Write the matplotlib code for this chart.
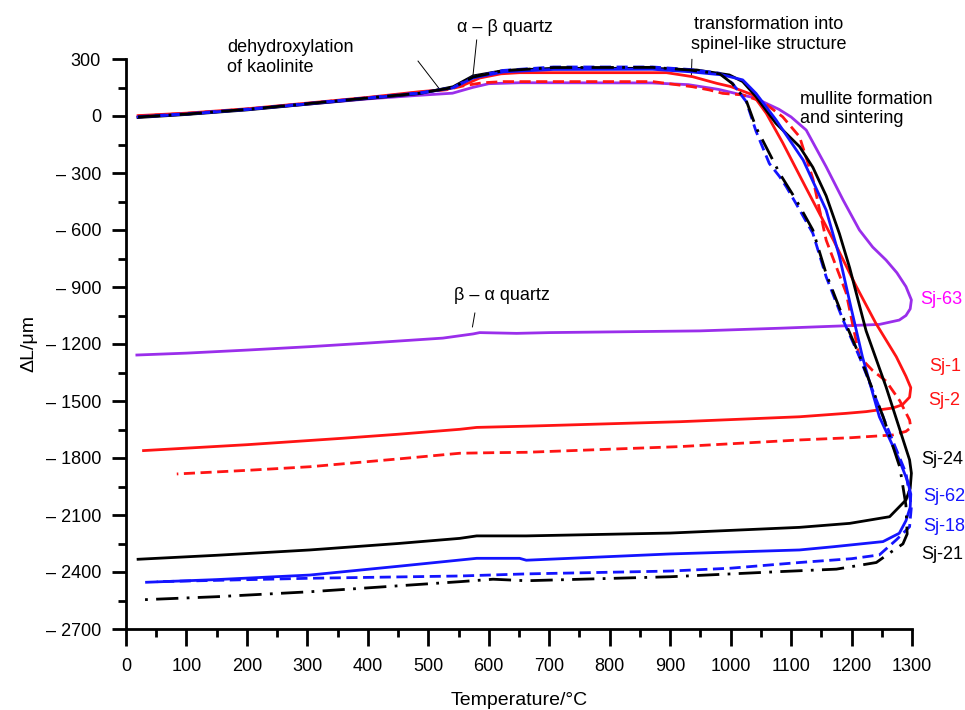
import matplotlib
matplotlib.use('Agg')
import matplotlib.pyplot as plt
from matplotlib.ticker import MultipleLocator, FuncFormatter

plt.rcParams['font.family'] = ['Liberation Sans', 'DejaVu Sans']
plt.rcParams['font.size'] = 13

# Sj-63: heating then cooling
sj63_heat_t = [20, 100, 200, 300, 400, 480, 540, 573, 600, 650, 870, 930, 980, 1040, 1080, 1100, 1125, 1158, 1186, 1213, 1235, 1257, 1275, 1290, 1299]
sj63_heat_dl = [-5, 10, 35, 62, 90, 108, 120, 150, 170, 175, 174, 165, 140, 95, 35, -5, -74, -267, -442, -600, -690, -758, -825, -898, -968]
sj63_cool_t = [1297, 1290, 1279, 1246, 1191, 1081, 949, 700, 646, 585, 574, 524, 400, 304, 200, 100, 18]
sj63_cool_dl = [-1015, -1050, -1074, -1097, -1104, -1117, -1131, -1140, -1144, -1140, -1147, -1169, -1195, -1214, -1232, -1248, -1258]

# Sj-1
sj1_heat_t = [20, 100, 200, 300, 400, 486, 530, 560, 585, 620, 651, 894, 937, 977, 1000, 1037, 1059, 1086, 1125, 1170, 1208, 1240, 1274, 1290, 1298]
sj1_heat_dl = [2, 15, 38, 68, 98, 128, 140, 165, 200, 222, 228, 228, 207, 172, 155, 111, 14, -140, -380, -653, -898, -1090, -1267, -1370, -1430]
sj1_cool_t = [1296, 1284, 1268, 1224, 1191, 1114, 916, 668, 580, 552, 450, 359, 200, 29]
sj1_cool_dl = [-1480, -1520, -1537, -1556, -1565, -1583, -1609, -1632, -1639, -1649, -1675, -1696, -1730, -1761]

# Sj-2
sj2_heat_t = [20, 100, 200, 300, 400, 486, 530, 560, 590, 624, 871, 937, 965, 987, 1020, 1053, 1086, 1114, 1136, 1158, 1191, 1213, 1235, 1257, 1280, 1296, 1298]
sj2_heat_dl = [0, 14, 36, 66, 96, 125, 138, 160, 175, 181, 181, 154, 137, 119, 111, 75, -4, -109, -330, -653, -930, -1267, -1340, -1395, -1500, -1600, -1640]
sj2_cool_t = [1290, 1268, 1200, 1114, 916, 662, 607, 552, 450, 304, 200, 84]
sj2_cool_dl = [-1660, -1679, -1693, -1705, -1740, -1770, -1772, -1775, -1805, -1846, -1865, -1884]

# Sj-24
sj24_heat_t = [20, 100, 200, 300, 400, 486, 541, 574, 624, 707, 871, 944, 998, 1020, 1042, 1075, 1114, 1136, 1158, 1180, 1197, 1224, 1257, 1296, 1299]
sj24_heat_dl = [-8, 8, 32, 62, 92, 118, 154, 211, 239, 251, 251, 242, 216, 181, 102, -39, -161, -270, -420, -620, -800, -1130, -1425, -1810, -1880]
sj24_cool_t = [1297, 1290, 1263, 1197, 1114, 900, 662, 580, 552, 450, 304, 150, 20]
sj24_cool_dl = [-1960, -2021, -2109, -2144, -2165, -2195, -2210, -2210, -2223, -2250, -2284, -2312, -2333]

# Sj-62
sj62_heat_t = [20, 100, 200, 300, 400, 486, 541, 574, 624, 707, 871, 932, 987, 1020, 1042, 1075, 1120, 1158, 1180, 1200, 1218, 1246, 1279, 1293, 1298]
sj62_heat_dl = [-5, 10, 34, 64, 94, 120, 148, 200, 232, 245, 246, 233, 216, 190, 119, -20, -232, -495, -740, -1020, -1267, -1583, -1810, -1925, -1990]
sj62_cool_t = [1297, 1290, 1279, 1252, 1170, 1114, 900, 662, 651, 580, 552, 450, 304, 150, 34]
sj62_cool_dl = [-2060, -2130, -2196, -2240, -2267, -2284, -2305, -2338, -2328, -2328, -2337, -2370, -2416, -2440, -2454]

# Sj-18
sj18_heat_t = [20, 100, 200, 300, 400, 486, 541, 574, 624, 707, 871, 932, 982, 1003, 1026, 1042, 1064, 1081, 1092, 1108, 1136, 1158, 1186, 1213, 1252, 1290, 1299]
sj18_heat_dl = [-3, 12, 36, 66, 96, 122, 150, 205, 240, 258, 258, 245, 225, 172, 75, -80, -250, -319, -372, -460, -617, -846, -1074, -1267, -1583, -1880, -2056]
sj18_cool_t = [1296, 1274, 1246, 1200, 1114, 1000, 900, 662, 552, 304, 51]
sj18_cool_dl = [-2162, -2231, -2310, -2330, -2350, -2380, -2395, -2410, -2421, -2433, -2451]

# Sj-21
sj21_heat_t = [20, 100, 200, 300, 400, 486, 541, 574, 624, 707, 871, 932, 982, 1003, 1026, 1042, 1064, 1081, 1108, 1136, 1158, 1186, 1213, 1252, 1280, 1290, 1292]
sj21_heat_dl = [-5, 10, 35, 65, 95, 120, 150, 205, 238, 255, 256, 242, 222, 170, 80, -60, -196, -302, -440, -600, -830, -1060, -1260, -1580, -1850, -2050, -2200]
sj21_cool_t = [1285, 1263, 1241, 1175, 1081, 900, 662, 607, 552, 304, 150, 20]
sj21_cool_dl = [-2252, -2300, -2350, -2385, -2398, -2425, -2446, -2438, -2451, -2504, -2530, -2547]

purple = '#9A2EEB'
red = '#FF1414'
blue = '#1414FF'

series = [
    # name, heat T, heat dL, cool T, cool dL, colour, dashes, label colour
    ('Sj-63', sj63_heat_t, sj63_heat_dl, sj63_cool_t, sj63_cool_dl, purple, None, '#FF00FF'),
    ('Sj-1', sj1_heat_t, sj1_heat_dl, sj1_cool_t, sj1_cool_dl, red, None, red),
    ('Sj-2', sj2_heat_t, sj2_heat_dl, sj2_cool_t, sj2_cool_dl, red, (4, 2), red),
    ('Sj-24', sj24_heat_t, sj24_heat_dl, sj24_cool_t, sj24_cool_dl, 'black', None, 'black'),
    ('Sj-62', sj62_heat_t, sj62_heat_dl, sj62_cool_t, sj62_cool_dl, blue, None, blue),
    ('Sj-18', sj18_heat_t, sj18_heat_dl, sj18_cool_t, sj18_cool_dl, blue, (4, 2), blue),
    ('Sj-21', sj21_heat_t, sj21_heat_dl, sj21_cool_t, sj21_cool_dl, 'black', (8, 3, 1, 3), 'black'),
]

# label positions at the right end of the cooling curves
label_t = [1313, 1329, 1326, 1316, 1318, 1318, 1316]
label_dl = [-968, -1316, -1495, -1810, -2005, -2163, -2310]

fig = plt.figure(figsize=(9.65, 7.1), dpi=100)
ax = fig.add_axes([126/965, 1-629/710, (912-126)/965, (629-59)/710])

for (name, ht, hd, ct, cd, col, dashes, lcol), lt, ld in zip(series, label_t, label_dl):
    t = ht + ct
    d = hd + cd
    line, = ax.plot(t, d, color=col, lw=2.0, clip_on=False, zorder=3)
    if dashes:
        line.set_dashes(dashes)
    ax.text(lt, ld, name, color=lcol, fontsize=13, ha='left', va='center', clip_on=False)

ax.set_xlim(0, 1300)
ax.set_ylim(-2700, 300)
ax.xaxis.set_major_locator(MultipleLocator(100))
ax.xaxis.set_minor_locator(MultipleLocator(50))
ax.yaxis.set_major_locator(MultipleLocator(300))
ax.yaxis.set_minor_locator(MultipleLocator(150))

def fmt_y(v, pos):
    v = int(round(v))
    return '\u2013 %d' % abs(v) if v < 0 else '%d' % v

ax.yaxis.set_major_formatter(FuncFormatter(fmt_y))

for s in ['top', 'right']:
    ax.spines[s].set_visible(False)
for s in ['left', 'bottom']:
    ax.spines[s].set_linewidth(2)

ax.tick_params(axis='x', which='major', direction='out', length=12, width=2, pad=9, labelsize=13)
ax.tick_params(axis='x', which='minor', direction='out', length=6, width=2)
ax.tick_params(axis='y', which='major', direction='out', length=10, width=2, pad=8, labelsize=13)
ax.tick_params(axis='y', which='minor', direction='out', length=6, width=2)

ax.set_xlabel('Temperature/\u00b0C', fontsize=14, labelpad=12)
ax.set_ylabel('\u0394L/\u03bcm', fontsize=14, labelpad=6)

# annotations
ax.text(167, 308, 'dehydroxylation\nof kaolinite', ha='left', va='center', fontsize=13)
ax.plot([483, 519], [289, 140], color='black', lw=0.7, clip_on=False)
ax.text(627, 468, '\u03b1 \u2013 \u03b2 quartz', ha='center', va='center', fontsize=13)
ax.plot([580, 574], [400, 216], color='black', lw=0.7, clip_on=False)
ax.text(1063, 429, 'transformation into\nspinel-like structure', ha='center', va='center', fontsize=13)
ax.plot([936, 935], [298, 207], color='black', lw=0.7, clip_on=False)
ax.text(1115, 37, 'mullite formation\nand sintering', ha='left', va='center', fontsize=13)
ax.text(622, -947, '\u03b2 \u2013 \u03b1 quartz', ha='center', va='center', fontsize=13)
ax.plot([577, 573], [-1037, -1110], color='black', lw=0.7)

fig.savefig('out.png', dpi=100)
